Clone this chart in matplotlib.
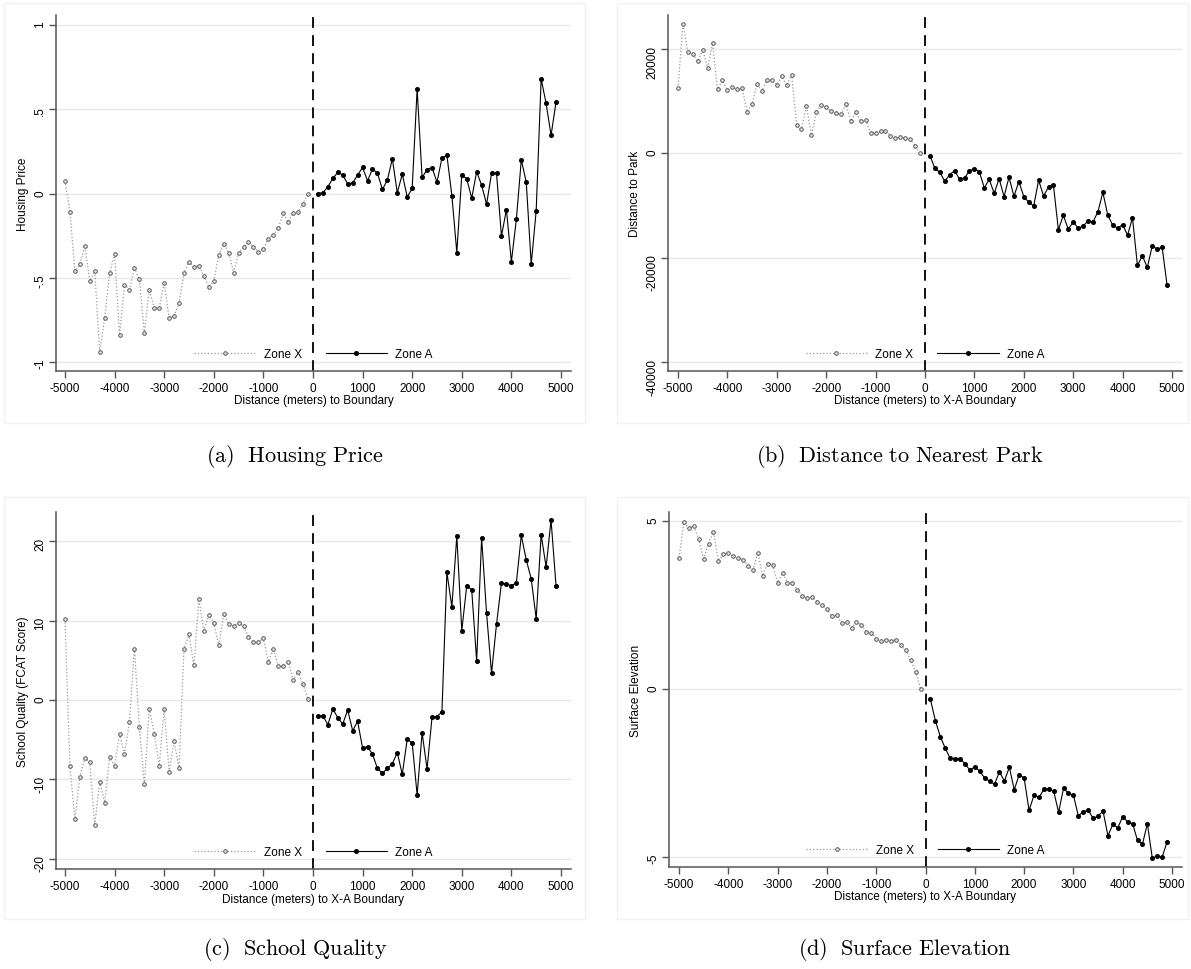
import numpy as np
import matplotlib
matplotlib.use('Agg')
import matplotlib.pyplot as plt
from matplotlib.patches import Rectangle

plt.rcParams['font.family'] = ['Liberation Sans', 'DejaVu Sans']
plt.rcParams['mathtext.fontset'] = 'cm'

# bin centres (meters to boundary)
x_zone_x = np.arange(-5000, 0, 100)
x_zone_a = np.arange(100, 5000, 100)

# (a) housing price
price_x = [0.075, -0.107, -0.46, -0.42, -0.31, -0.52, -0.46, -0.94, -0.74, -0.47,
           -0.36, -0.84, -0.54, -0.57, -0.44, -0.51, -0.83, -0.57, -0.68, -0.68,
           -0.53, -0.74, -0.725, -0.65, -0.47, -0.405, -0.435, -0.43, -0.49, -0.555,
           -0.52, -0.365, -0.30, -0.35, -0.47, -0.35, -0.32, -0.285, -0.32, -0.345,
           -0.33, -0.267, -0.247, -0.207, -0.115, -0.17, -0.115, -0.11, -0.06, 0.0]
price_a = [0.0, 0.005, 0.04, 0.09, 0.125, 0.11, 0.057, 0.063, 0.11, 0.155,
           0.075, 0.146, 0.12, 0.024, 0.08, 0.207, 0.004, 0.115, -0.02, 0.03,
           0.62, 0.095, 0.142, 0.154, 0.067, 0.21, 0.227, -0.012, -0.35, 0.109,
           0.087, -0.028, 0.13, 0.049, -0.063, 0.119, 0.122, -0.253, -0.095, -0.405,
           -0.154, 0.2, 0.067, -0.42, -0.103, 0.68, 0.535, 0.345, 0.543]

# (b) distance to nearest park
park_x = [12440, 24880, 19390, 19070, 17670, 19840, 16400, 21120, 12310, 13970,
          12120, 12630, 12310, 12440, 7970, 9440, 13330, 11990, 14040, 14100,
          13140, 14740, 13010, 15060, 5420, 4590, 9120, 3510, 7850, 9250,
          8870, 8040, 7720, 7460, 9380, 6190, 7850, 6190, 6320, 3890,
          3830, 4270, 4270, 3380, 2870, 3130, 2930, 2680, 1470, 0]
park_a = [-450, -2870, -3640, -5360, -4080, -3320, -4980, -4720, -3380, -2930,
          -3510, -6630, -4980, -7660, -4850, -8290, -4590, -8230, -5420, -8290,
          -9380, -10080, -5170, -8170, -6440, -6120, -14670, -11870, -14540, -13140,
          -14350, -13970, -12950, -13140, -11230, -7460, -11870, -13780, -14350, -13650,
          -15690, -12380, -21500, -19650, -21880, -17730, -18370, -17990, -25270]

# (c) school quality
school_x = [10.19, -8.3, -14.97, -9.69, -7.3, -7.84, -15.7, -10.3, -12.9, -7.2,
            -8.3, -4.28, -6.75, -2.77, 6.46, -3.44, -10.6, -1.09, -4.23, -8.3,
            -1.09, -9.06, -5.2, -8.51, 6.42, 8.26, 4.36, 12.7, 8.72, 10.69,
            9.69, 6.88, 10.78, 9.56, 9.31, 9.69, 9.31, 7.97, 7.25, 7.25,
            7.8, 4.82, 6.46, 4.28, 4.28, 4.78, 2.52, 3.52, 1.97, 0.08]
school_a = [-2.0, -2.0, -3.1, -1.13, -2.22, -3.02, -1.26, -3.86, -2.68, -6.04,
            -5.87, -6.83, -8.6, -9.22, -8.6, -8.0, -6.62, -9.35, -4.95, -5.37,
            -11.95, -4.11, -8.68, -2.18, -2.1, -1.47, 16.06, 11.7, 20.63, 8.72,
            14.38, 13.88, 4.9, 20.38, 10.9, 3.35, 9.52, 14.72, 14.55, 14.38,
            14.72, 20.71, 17.61, 15.26, 10.23, 20.8, 16.73, 22.64, 14.38]

# (d) surface elevation
elev_x = [3.91, 4.97, 4.78, 4.85, 4.46, 3.88, 4.33, 4.68, 3.81, 4.01,
          4.05, 3.95, 3.91, 3.85, 3.67, 3.54, 4.05, 3.37, 3.73, 3.69,
          3.17, 3.45, 3.17, 3.15, 2.96, 2.77, 2.72, 2.74, 2.6, 2.51,
          2.38, 2.16, 2.2, 1.96, 1.99, 1.82, 1.98, 1.92, 1.7, 1.68,
          1.5, 1.43, 1.47, 1.43, 1.47, 1.3, 1.16, 0.86, 0.52, 0.01]
elev_a = [-0.31, -0.94, -1.42, -1.76, -2.06, -2.07, -2.07, -2.22, -2.42, -2.31,
          -2.45, -2.65, -2.75, -2.83, -2.47, -2.74, -2.33, -3.0, -2.55, -2.65,
          -3.61, -3.17, -3.23, -2.99, -2.97, -3.05, -3.67, -2.95, -3.11, -3.16,
          -3.78, -3.65, -3.61, -3.85, -3.79, -3.63, -4.37, -4.03, -4.13, -3.8,
          -3.96, -4.01, -4.51, -4.62, -4.01, -5.04, -4.97, -5.0, -4.55]

x_ticks = list(range(-5000, 5001, 1000))

W, H = 1191, 970
fig = plt.figure(figsize=(W / 100, H / 100), dpi=100)


def px_rect(l, t, r, b):
    return [l / W, 1 - b / H, (r - l) / W, (b - t) / H]


def panel(box, rect, yx, ya, yticks, ylabels, ylim, xlim, ylab, xlab, caption, cap_xy):
    # light outline around each graph region
    fig.patches.append(Rectangle((box[0] / W, 1 - box[3] / H), (box[2] - box[0]) / W,
                                 (box[3] - box[1]) / H, transform=fig.transFigure,
                                 fill=False, edgecolor='#edf2f2', lw=1.0))
    ax = fig.add_axes(px_rect(*rect))
    ax.set_axisbelow(True)
    ax.plot(x_zone_x, yx, ls=':', color='#9a9a9a', lw=0.9, marker='o', ms=2.6,
            mfc='#e0e0e0', mec='#444444', mew=0.6, label='Zone X')
    ax.plot(x_zone_a, ya, ls='-', color='black', lw=0.8, marker='o', ms=2.6,
            mfc='black', mec='black', label='Zone A')
    ax.axvline(0, color='black', lw=1.3, ls=(0, (6, 4)))
    ax.set_xlim(*xlim)
    ax.set_ylim(*ylim)
    ax.set_xticks(x_ticks)
    ax.set_xticklabels([str(t) for t in x_ticks])
    ax.set_yticks(yticks)
    ax.set_yticklabels(ylabels)
    ax.yaxis.grid(True, color='#e2ebeb', lw=1.0)
    for s in ['top', 'right']:
        ax.spines[s].set_visible(False)
    for s in ['left', 'bottom']:
        ax.spines[s].set_color('#555555')
        ax.spines[s].set_linewidth(1.1)
    ax.tick_params(direction='out', length=5, width=1, color='#555555', labelsize=8.5, pad=3)
    ax.tick_params(axis='y', labelrotation=90, pad=2)
    ax.set_ylabel(ylab, fontsize=8.5)
    ax.set_xlabel(xlab, fontsize=8.5)
    ax.yaxis.set_label_coords(-0.053, 0.5)
    ax.xaxis.set_label_coords(0.5, -0.066)
    ax.legend(loc='center', bbox_to_anchor=(0.5, 0.048), ncol=2, frameon=False,
              fontsize=8.5, handlelength=5.2, columnspacing=2.0, handletextpad=0.7,
              numpoints=1)
    fig.text(cap_xy[0] / W, 1 - cap_xy[1] / H, caption, ha='center', va='center', fontsize=16)
    return ax


panel((4, 4, 585, 424), (56, 16, 571, 372), price_x, price_a,
      [-1, -0.5, 0, 0.5, 1], ['-1', '-.5', '0', '.5', '1'], (-1.053, 1.059),
      (-5181, 5202), 'Housing Price', 'Distance (meters) to Boundary',
      r'$\mathrm{(a)\ \ Housing\ Price}$', (295, 457))

panel((617, 4, 1188, 424), (668, 16, 1182, 372), park_x, park_a,
      [-40000, -20000, 0, 20000], ['-40000', '-20000', '0', '20000'], (-41725, 26518),
      (-5202, 5202), 'Distance to Park', 'Distance (meters) to X-A Boundary',
      r'$\mathrm{(b)\ \ Distance\ to\ Nearest\ Park}$', (900, 457))

panel((4, 498, 585, 920), (56, 513, 571, 870), school_x, school_a,
      [-20, -10, 0, 10, 20], ['-20', '-10', '0', '10', '20'], (-21.26, 23.65),
      (-5181, 5202), 'School Quality (FCAT Score)', 'Distance (meters) to X-A Boundary',
      r'$\mathrm{(c)\ \ School\ Quality}$', (295, 950))

panel((617, 498, 1188, 920), (669, 513, 1182, 868), elev_x, elev_a,
      [-5, 0, 5], ['-5', '0', '5'], (-5.3, 5.27),
      (-5202, 5202), 'Surface Elevation', 'Distance (meters) to X-A Boundary',
      r'$\mathrm{(d)\ \ Surface\ Elevation}$', (905, 950))

fig.savefig('out.png', dpi=100, facecolor='white')
